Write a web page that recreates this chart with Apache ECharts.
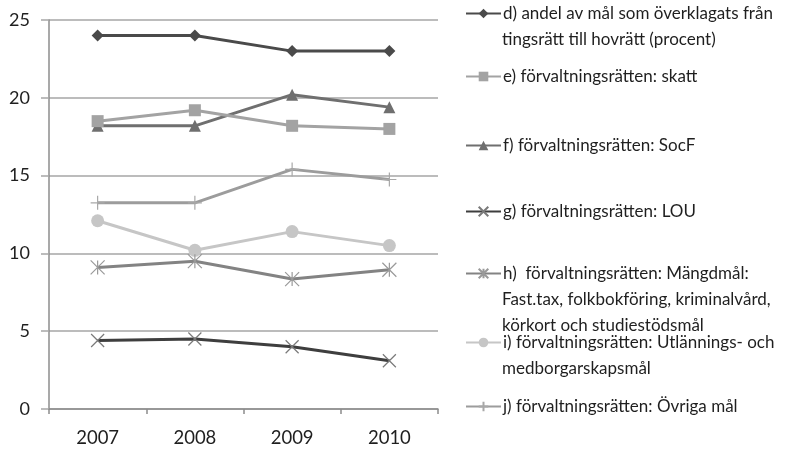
<!DOCTYPE html>
<html><head><meta charset="utf-8">
<script src="https://cdn.jsdelivr.net/npm/echarts@6/dist/echarts.min.js"></script>
<style>html,body{margin:0;padding:0;background:#fff}#c{width:810px;height:452px}</style>
</head><body><div id="c"></div>
<script>
const categories = ['2007', '2008', '2009', '2010'];
const seriesNames = [
  'd) andel av mål som överklagats från tingsrätt till hovrätt (procent)',
  'e) förvaltningsrätten: skatt',
  'f) förvaltningsrätten: SocF',
  'g) förvaltningsrätten: LOU',
  'h)  förvaltningsrätten: Mängdmål: Fast.tax, folkbokföring, kriminalvård, körkort och studiestödsmål',
  'i) förvaltningsrätten: Utlännings- och medborgarskapsmål',
  'j) förvaltningsrätten: Övriga mål'
];
const legendFirstLines = [
  'd) andel av mål som överklagats från',
  'e) förvaltningsrätten: skatt',
  'f) förvaltningsrätten: SocF',
  'g) förvaltningsrätten: LOU',
  'h)  förvaltningsrätten: Mängdmål:',
  'i) förvaltningsrätten: Utlännings- och',
  'j) förvaltningsrätten: Övriga mål'
];
const legendMoreLines = [
  ['tingsrätt till hovrätt (procent)'],
  [], [], [],
  ['Fast.tax, folkbokföring, kriminalvård,', 'körkort och studiestödsmål'],
  ['medborgarskapsmål'],
  []
];
const dValues = [24.0, 24.0, 23.0, 23.0];
const eValues = [18.5, 19.2, 18.2, 18.0];
const fValues = [18.2, 18.2, 20.2, 19.4];
const gValues = [4.4, 4.5, 4.0, 3.1];
const hValues = [9.1, 9.5, 8.35, 8.95];
const iValues = [12.1, 10.2, 11.4, 10.5];
const jValues = [13.25, 13.25, 15.4, 14.75];
const yTicks = [0, 5, 10, 15, 20, 25];

const allValues = [dValues, eValues, fValues, gValues, hValues, iValues, jValues];
const colors = ['#4a4a4a', '#a3a3a3', '#6f6f6f', '#3e3e3e', '#838383', '#c6c6c6', '#9c9c9c'];
const markerColors = ['#4a4a4a', '#a3a3a3', '#6f6f6f', '#7a7a7a', '#9a9a9a', '#c6c6c6', '#a8a8a8'];
const symbols = [
  'diamond', 'rect', 'triangle',
  'path://M0,0L10,10M10,0L0,10',
  'path://M0,0L10,10M10,0L0,10M5,0L5,10',
  'circle',
  'path://M0,5L10,5M5,0L5,10'
];
const symbolSizes = [12, 12, 12, 13, 14, 13, 14];
const strokeOnly = [false, false, false, true, true, false, true];
const legendTops = [15, 78, 147, 213, 275, 344, 408];
const lineH = 26;
const FONT = 'Lato';
const LFS = 17;

const chart = echarts.init(document.getElementById('c'), null, {renderer: 'canvas'});

const series = seriesNames.map((n, k) => ({
  name: n,
  type: 'line',
  data: allValues[k],
  symbol: symbols[k],
  symbolSize: symbolSizes[k],
  showAllSymbol: true,
  lineStyle: {color: colors[k], width: 3},
  itemStyle: strokeOnly[k]
    ? {color: markerColors[k], borderColor: markerColors[k], borderWidth: 1.2}
    : {color: colors[k], borderColor: colors[k], borderWidth: 0},
  emphasis: {disabled: true},
  animation: false,
  z: 10 - k
}));

const legends = seriesNames.map((n, k) => ({
  data: [n],
  left: 465,
  top: legendTops[k] - 10,
  orient: 'vertical',
  itemWidth: 35,
  itemHeight: 12,
  itemGap: 4,
  padding: 0,
  selectedMode: false,
  formatter: () => legendFirstLines[k],
  textStyle: {fontFamily: FONT, fontSize: LFS, color: '#1f1f1f', padding: [0, 0, 0, -3]}
}));

const graphics = [];
legendMoreLines.forEach((lines, k) => {
  lines.forEach((t, j) => {
    graphics.push({
      type: 'text',
      left: 502,
      top: legendTops[k] + lineH * (j + 1) - 10,
      style: {text: t, font: LFS + 'px ' + FONT, fill: '#1f1f1f'}
    });
  });
});

chart.setOption({
  animation: false,
  backgroundColor: '#fff',
  grid: {left: 49, right: 372, top: 20, bottom: 43, containLabel: false},
  xAxis: {
    type: 'category',
    data: categories,
    boundaryGap: true,
    axisLine: {lineStyle: {color: '#8c8c8c', width: 1.5}},
    axisTick: {show: true, length: 5, alignWithLabel: false, lineStyle: {color: '#8c8c8c', width: 1.5}},
    axisLabel: {fontFamily: FONT, fontSize: 18.5, color: '#1f1f1f', margin: 20}
  },
  yAxis: {
    type: 'value',
    min: yTicks[0],
    max: yTicks[yTicks.length - 1],
    interval: 5,
    axisLine: {show: true, lineStyle: {color: '#8c8c8c', width: 1.5}},
    axisTick: {show: true, length: 8, lineStyle: {color: '#a6a6a6', width: 1.5}},
    splitLine: {lineStyle: {color: '#a6a6a6', width: 1.5}},
    axisLabel: {fontFamily: FONT, fontSize: 18, color: '#1f1f1f', margin: 19}
  },
  legend: legends,
  graphic: graphics,
  series: series
});
</script>
</body></html>
